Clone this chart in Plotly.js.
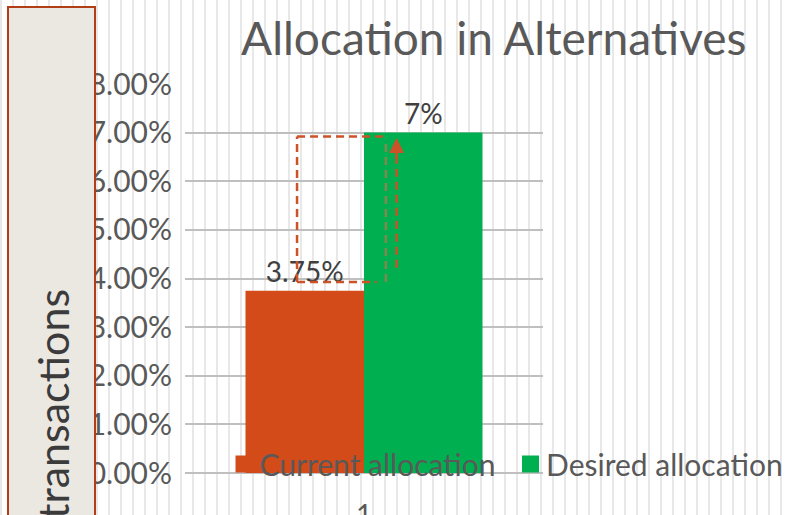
<!DOCTYPE html>
<html>
<head>
<meta charset="utf-8">
<script src="https://cdn.plot.ly/plotly-3.0.1.min.js"></script>
<style>
  html, body {
    margin: 0; padding: 0; width: 785px; height: 515px; overflow: hidden;
    background: #ffffff repeating-linear-gradient(90deg, #e8e8e8 0 2px, #ffffff 2px 12px);
  }
  #chart { position: absolute; left: 0; top: 0; width: 785px; height: 515px; }
  #side {
    position: absolute; left: 7px; top: 6px; width: 85px; height: 540px;
    background: #ebe7e1; border: 2px solid #b33d17; z-index: 5; overflow: hidden;
  }
  #side span {
    position: absolute; left: 18px; top: 511px; transform-origin: 0 0;
    transform: rotate(-90deg); white-space: nowrap;
    font-family: Lato, sans-serif; font-size: 43px; color: #3b3b3b;
  }
</style>
</head>
<body>
<div id="chart"></div>
<div id="side"><span>transactions</span></div>
<script>
// categories and series values
const categories = ['1'];
const currentAllocation = [0.0375];
const desiredAllocation = [0.07];
const seriesNames = ['Current allocation', 'Desired allocation'];
const yTickValues = [0, 0.01, 0.02, 0.03, 0.04, 0.05, 0.06, 0.07, 0.08];

const labelFont = { family: 'Lato, sans-serif', size: 28, color: '#404040' };

const traces = [
  {
    type: 'bar', x: categories, y: currentAllocation, name: seriesNames[0],
    marker: { color: '#d24b19' },
    texttemplate: '%{y:.2~%}', textposition: 'outside', textfont: labelFont,
    constraintext: 'none', cliponaxis: false, hoverinfo: 'skip'
  },
  {
    type: 'bar', x: categories, y: desiredAllocation, name: seriesNames[1],
    marker: { color: '#00b050' },
    texttemplate: '%{y:.2~%}', textposition: 'outside', textfont: labelFont,
    constraintext: 'none', cliponaxis: false, hoverinfo: 'skip'
  }
];

// dashed guide box and upward arrow between the two levels
const guide = '#cc5228';
const dashed = (x0, y0, x1, y1, color) => ({
  type: 'line', xref: 'x', yref: 'y', x0, y0, x1, y1, layer: 'above',
  line: { color: color || guide, width: 2.5, dash: '8px,5px' }
});

const layout = {
  width: 785, height: 515,
  margin: { l: 185, r: 242, t: 84, b: 42, pad: 0, autoexpand: false },
  paper_bgcolor: 'rgba(0,0,0,0)', plot_bgcolor: 'rgba(0,0,0,0)',
  font: { family: 'Lato, sans-serif', color: '#595959' },
  title: {
    text: 'Allocation in Alternatives',
    font: { family: 'Lato, sans-serif', size: 46, color: '#595959' },
    x: 0.629, xanchor: 'center', xref: 'container',
    y: 0.925, yanchor: 'middle', yref: 'container'
  },
  barmode: 'group', bargap: 0.338, bargroupgap: 0,
  showlegend: true,
  xaxis: {
    type: 'category', showgrid: false, zeroline: false, showline: false,
    ticks: '', tickfont: { size: 28, color: '#595959' }, ticklabelstandoff: 23,
    fixedrange: true
  },
  yaxis: {
    range: [0, 0.08], tickvals: yTickValues, tickformat: '.2%',
    showgrid: true, gridcolor: '#bfbfbf', gridwidth: 2,
    zeroline: true, zerolinecolor: '#bfbfbf', zerolinewidth: 2,
    showline: false, ticks: '', tickfont: { size: 30, color: '#595959' },
    ticklabelstandoff: 12, fixedrange: true
  },
  legend: {
    orientation: 'h', x: 1.697, xanchor: 'right', y: -0.044, yanchor: 'bottom',
    entrywidth: 241.5,
    font: { family: 'Lato, sans-serif', size: 30, color: '#595959' },
    bgcolor: 'rgba(0,0,0,0)', traceorder: 'normal'
  },
  shapes: [
    dashed(-0.187, 0.0393, -0.187, 0.0692),
    dashed(-0.187, 0.0692, 0.053, 0.0692),
    dashed(-0.187, 0.0393, 0.036, 0.0393),
    dashed(0.061, 0.0393, 0.061, 0.0688, '#80894f'),
    dashed(0.091, 0.0422, 0.091, 0.0655)
  ],
  annotations: [
    {
      xref: 'x', yref: 'y', x: 0.091, y: 0.0689, text: '',
      showarrow: true, ax: 0, ay: 22, arrowhead: 2, arrowsize: 1.2,
      arrowwidth: 2.5, arrowcolor: guide, standoff: 0
    }
  ]
};

Plotly.newPlot('chart', traces, layout, { displayModeBar: false, staticPlot: true })
  .then(() => {
    // square legend swatches, set a little closer to their labels
    document.querySelectorAll('#chart .legendpoints path')
      .forEach(p => p.setAttribute('d', 'M13,8.5H-4V-8.5H13Z'));
  });
</script>
</body>
</html>
